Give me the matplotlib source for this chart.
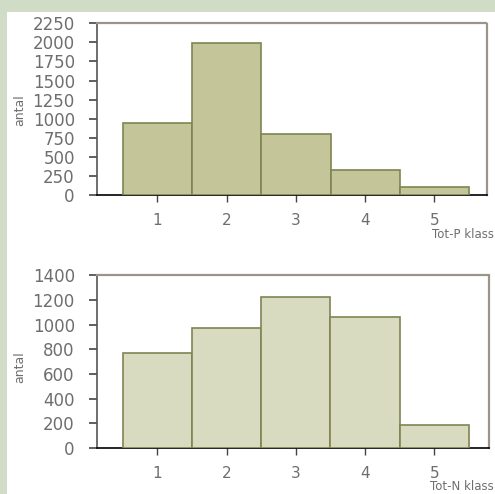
import matplotlib.pyplot as plt
from matplotlib.patches import Rectangle

classes = [1, 2, 3, 4, 5]
tot_p_counts = [950, 1990, 800, 330, 110]
tot_n_counts = [770, 975, 1225, 1065, 190]
p_yticks = list(range(0, 2251, 250))
n_yticks = list(range(0, 1401, 200))

text_color = '#6e6e6e'


def style_axes(ax, counts, yticks, face, xlim):
    ax.bar(classes, counts, width=1.0, color=face, edgecolor='#7f8453',
           linewidth=1.2, zorder=3)
    ax.set_xlim(*xlim)
    ax.set_ylim(0, yticks[-1])
    ax.set_yticks(yticks)
    ax.set_xticks(classes)
    ax.spines['left'].set_color('#555555')
    ax.spines['left'].set_linewidth(1.2)
    ax.spines['bottom'].set_color('black')
    ax.spines['bottom'].set_linewidth(1.2)
    for side in ['top', 'right']:
        ax.spines[side].set_color('#9a948a')
        ax.spines[side].set_linestyle((0, (1, 1)))
        ax.spines[side].set_linewidth(1.6)
    ax.tick_params(axis='y', direction='out', length=6, width=1.2,
                   color='#444444', labelcolor=text_color, labelsize=12, pad=10)
    ax.tick_params(axis='x', direction='out', length=5, width=1,
                   color='#444444', labelcolor=text_color, labelsize=11, pad=8)


fig = plt.figure(figsize=(4.95, 4.94), dpi=100)
fig.patch.set_facecolor('#d0dcc6')
fig.patches.append(Rectangle((7 / 495, 0), 1, 1 - 12 / 494,
                             transform=fig.transFigure, facecolor='white',
                             edgecolor='none', zorder=-10))

ax1 = fig.add_axes([0.196, 0.605, 0.788, 0.348])
style_axes(ax1, tot_p_counts, p_yticks, '#c4c699', (0.13, 5.76))

ax2 = fig.add_axes([0.196, 0.093, 0.792, 0.350])
style_axes(ax2, tot_n_counts, n_yticks, '#d9dbc1', (0.13, 5.79))

fig.text(20 / 495, 1 - 110 / 494, 'antal', rotation=90, ha='center',
         va='center', fontsize=9, color=text_color)
fig.text(20 / 495, 1 - 367 / 494, 'antal', rotation=90, ha='center',
         va='center', fontsize=9, color=text_color)
fig.text(0.998, 1 - 235 / 494, 'Tot-P klass', ha='right', va='center',
         fontsize=8.5, color=text_color)
fig.text(0.998, 0.003, 'Tot-N klass', ha='right', va='bottom',
         fontsize=8.5, color=text_color)

fig.savefig('out.png', dpi=100, facecolor=fig.get_facecolor())
